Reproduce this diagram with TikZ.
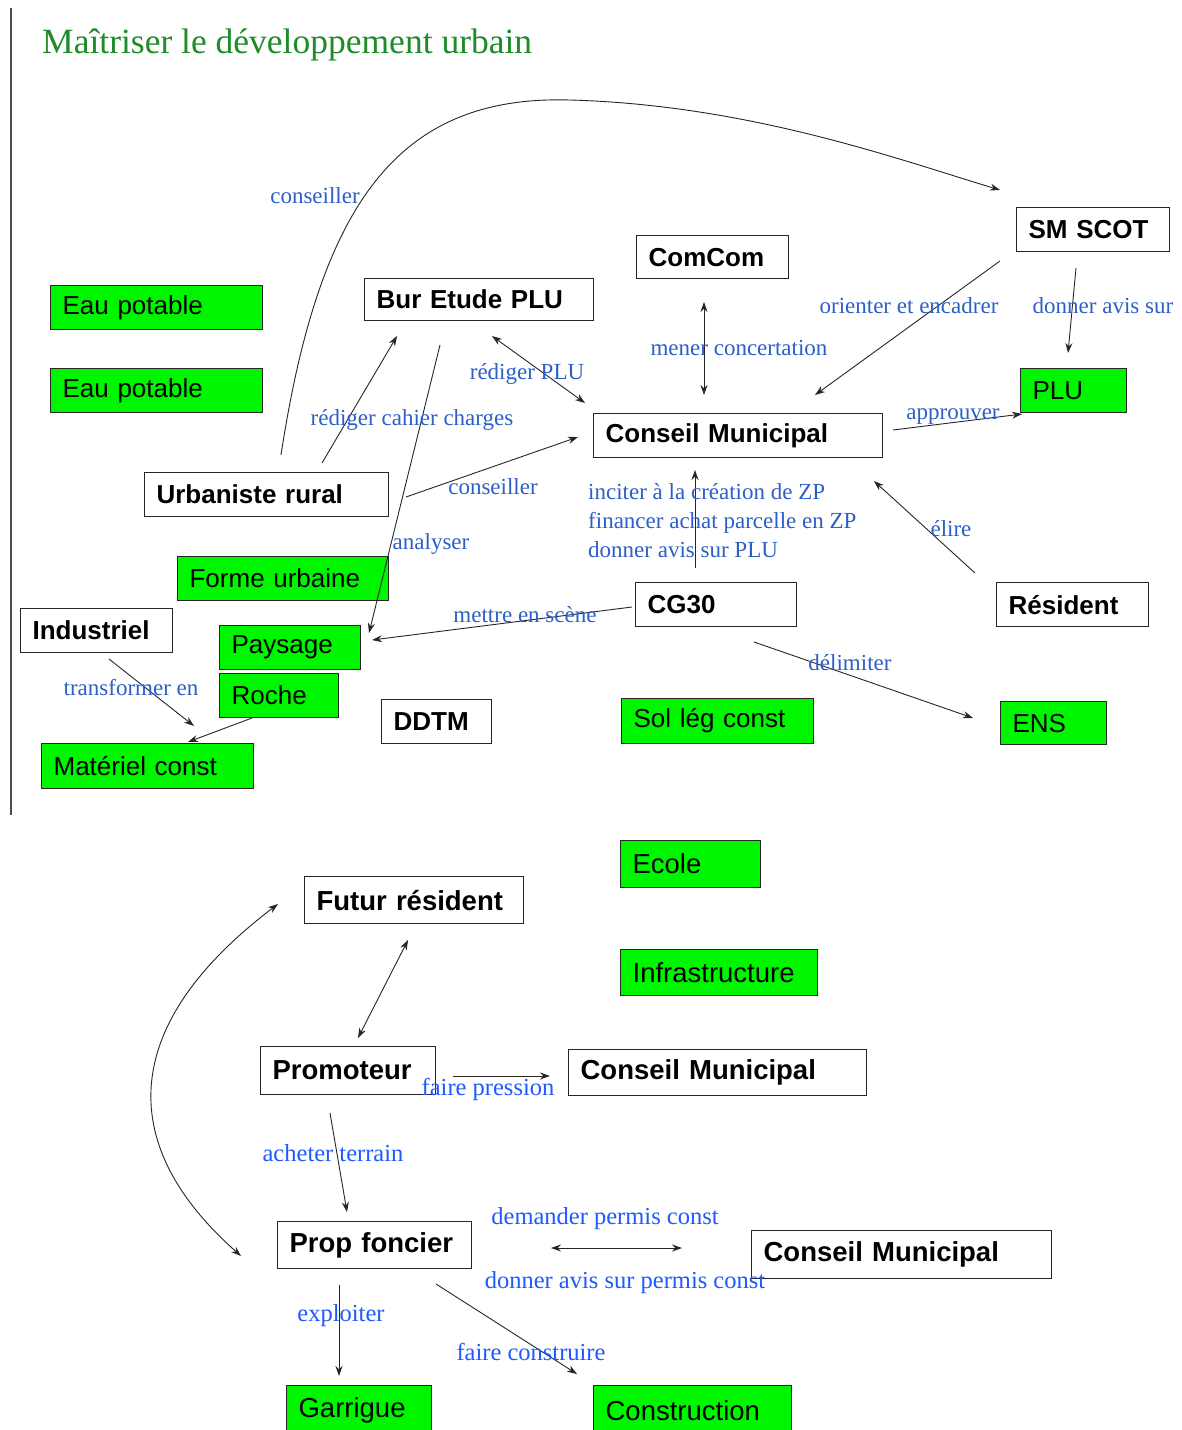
\documentclass[tikz,border=0pt]{standalone}
\usepackage{fontspec}
\setmainfont{Liberation Serif}
\newfontfamily\arialf{Liberation Sans}
\usetikzlibrary{arrows.meta}
\definecolor{boxgreen}{RGB}{0,245,0}
\definecolor{titlegreen}{RGB}{30,140,40}
\definecolor{lblue}{RGB}{45,95,200}
\definecolor{bblue}{RGB}{30,90,255}
\begin{document}
\begin{tikzpicture}[x=1pt,y=-1pt,
  wbox/.style={draw=black!85, line width=1.2pt, fill=white, anchor=north west,
    inner xsep=12pt, inner ysep=0pt, align=left, minimum height=44pt,
    font=\arialf\bfseries\fontsize{26}{30}\selectfont},
  gbox/.style={wbox, fill=boxgreen, font=\arialf\fontsize{26}{30}\selectfont},
  wbbox/.style={wbox, minimum height=47pt, font=\arialf\bfseries\fontsize{27.5}{30}\selectfont},
  gbbox/.style={wbbox, fill=boxgreen, font=\arialf\fontsize{27.5}{30}\selectfont},
  lbl/.style={text=lblue, font=\fontsize{23}{26}\selectfont, inner sep=0pt},
  blbl/.style={text=bblue, font=\fontsize{24.5}{26}\selectfont, inner sep=0pt},
  arr/.style={-{Stealth[length=10pt,width=7pt]}, line width=0.9pt, draw=black!85},
  darr/.style={{Stealth[length=10pt,width=7pt]}-{Stealth[length=10pt,width=7pt]}, line width=0.9pt, draw=black!85}]
\useasboundingbox[fill=white] (0,0) rectangle (1182,1430);

% left rule
\draw[line width=1.8pt, black!70] (11,8) -- (11,815);
% title
\node[anchor=base west, text=titlegreen, font=\fontsize{35.5}{40}\selectfont, inner sep=0pt] (title) at (42,53) {Maîtriser le développement urbain};

% ---------- top boxes ----------
\node[gbox, text width=188pt] (eau1) at (50,285) {Eau potable};
\node[gbox, text width=188pt] (eau2) at (50,368) {Eau potable};
\node[wbox, text width=205pt, minimum height=42pt] (bur) at (364,278) {Bur Etude PLU};
\node[wbox, text width=128pt, minimum height=43pt] (comcom) at (636,235) {ComCom};
\node[wbox, text width=129pt] (scot) at (1016,207) {SM SCOT};
\node[wbox, text width=265pt] (cm1) at (593,413) {Conseil Municipal};
\node[gbox, text width=82pt] (plu) at (1020,368) {PLU};
\node[wbox, text width=220pt] (urb) at (144,472) {Urbaniste rural};
\node[gbox, text width=187pt] (forme) at (177,556) {Forme urbaine};
\node[wbox, text width=128pt] (indus) at (20,608) {Industriel};
\node[gbox, text width=117pt] (pays) at (219,625) {Paysage};
\node[gbox, text width=95pt] (roche) at (219,673) {Roche};
\node[gbox, text width=188pt, minimum height=45pt] (mat) at (41,743) {Matériel const};
\node[wbox, text width=86pt] (ddtm) at (381,699) {DDTM};
\node[wbox, text width=137pt] (cg30) at (635,582) {CG30};
\node[wbox, text width=128pt] (resid) at (996,582) {Résident};
\node[gbox, text width=168pt, minimum height=45pt] (sol) at (621,698) {Sol lég const};
\node[gbox, text width=82pt, minimum height=43pt] (ens) at (1000,701) {ENS};

% ---------- top connector ends ----------
\coordinate (a1s) at (281,455); \coordinate (a1e) at (1000,190);
\coordinate (a2s) at (322,463); \coordinate (a2e) at (397,336);
\coordinate (a3s) at (440,345); \coordinate (a3e) at (369,633);
\coordinate (a4s) at (492,336); \coordinate (a4e) at (585,403);
\coordinate (a5s) at (406,497); \coordinate (a5e) at (578,437);
\coordinate (a6s) at (704,302); \coordinate (a6e) at (704,395);
\coordinate (a7s) at (1000,261); \coordinate (a7e) at (815,395);
\coordinate (a8s) at (1076,268); \coordinate (a8e) at (1068,353);
\coordinate (a9s) at (893,430); \coordinate (a9e) at (1022,414);
\coordinate (a10s) at (695,568); \coordinate (a10e) at (695,470);
\coordinate (a11s) at (975,573); \coordinate (a11e) at (874,481);
\coordinate (a12s) at (632,607); \coordinate (a12e) at (372,640);
\coordinate (a13s) at (754,642); \coordinate (a13e) at (973,718);
\coordinate (a14s) at (109,659); \coordinate (a14e) at (194,726);
\coordinate (a15s) at (252,718); \coordinate (a15e) at (188,742);

\draw[arr] (a1s) .. controls (320,200) and (400,95) .. (570,100) .. controls (750,105) and (900,160) .. (a1e);
\draw[arr] (a2s) -- (a2e);
\draw[arr] (a3s) -- (a3e);
\draw[darr] (a4s) -- (a4e);
\draw[arr] (a5s) -- (a5e);
\draw[darr] (a6s) -- (a6e);
\draw[arr] (a7s) -- (a7e);
\draw[arr] (a8s) -- (a8e);
\draw[arr] (a9s) -- (a9e);
\draw[arr] (a10s) -- (a10e);
\draw[arr] (a11s) -- (a11e);
\draw[arr] (a12s) -- (a12e);
\draw[arr] (a13s) -- (a13e);
\draw[arr] (a14s) -- (a14e);
\draw[arr] (a15s) -- (a15e);

% ---------- top labels ----------
\node[lbl] (l1) at (315,196) {conseiller};
\node[lbl] (l2) at (412,420) {rédiger cahier charges};
\node[lbl] (l3) at (527,374) {rédiger PLU};
\node[lbl] (l4) at (493,487) {conseiller};
\node[lbl] (l5) at (431,544) {analyser};
\node[lbl] (l6) at (739,348) {mener concertation};
\node[lbl] (l7) at (909,306) {orienter et encadrer};
\node[lbl] (l8) at (1103,306) {donner avis sur};
\node[lbl] (l9) at (953,417) {approuver};
\node[lbl, anchor=base west] (zp1) at (588,499) {inciter à la création de ZP};
\node[lbl, anchor=base west] (zp2) at (588,528) {financer achat parcelle en ZP};
\node[lbl, anchor=base west] (zp3) at (588,557) {donner avis sur PLU};
\node[lbl] (l10) at (951,529) {élire};
\node[lbl] (l11) at (525,615) {mettre en scène};
\node[lbl] (l12) at (850,663) {délimiter};
\node[lbl] (l13) at (131,688) {transformer en};

% ---------- bottom boxes ----------
\node[gbbox, text width=116pt] (ecole) at (620,840) {Ecole};
\node[wbbox, text width=195pt] (futur) at (304,876) {Futur résident};
\node[gbbox, text width=173pt, minimum height=46pt] (infra) at (620,949) {Infrastructure};
\node[wbbox, text width=151pt, minimum height=48pt] (promo) at (260,1046) {Promoteur};
\node[wbbox, text width=274pt, minimum height=46pt] (cm2) at (568,1049) {Conseil Municipal};
\node[wbbox, text width=170pt] (prop) at (277,1221) {Prop foncier};
\node[wbbox, text width=276pt, minimum height=48pt] (cm3) at (751,1230) {Conseil Municipal};
\node[gbbox, text width=121pt, minimum height=50pt] (garr) at (286,1385) {Garrigue};
\node[gbbox, text width=174pt, minimum height=50pt] (constr) at (593,1385) {Construction};

% ---------- bottom connector ends ----------
\coordinate (b1s) at (408,940); \coordinate (b1e) at (358,1038);
\coordinate (b2s) at (453,1076); \coordinate (b2e) at (550,1076);
\coordinate (b3s) at (330,1113); \coordinate (b3e) at (347,1212);
\coordinate (b4s) at (241,1256); \coordinate (b4e) at (278,904);
\coordinate (b5s) at (551,1248); \coordinate (b5e) at (682,1248);
\coordinate (b6s) at (339,1285); \coordinate (b6e) at (339,1376);
\coordinate (b7s) at (436,1284); \coordinate (b7e) at (577,1374);

\draw[darr] (b1s) -- (b1e);
\draw[arr] (b2s) -- (b2e);
\draw[arr] (b3s) -- (b3e);
\draw[darr] (b4s) .. controls (110,1140) and (125,1020) .. (b4e);
\draw[darr] (b5s) -- (b5e);
\draw[arr] (b6s) -- (b6e);
\draw[arr] (b7s) -- (b7e);

% ---------- bottom labels ----------
\node[blbl] (m1) at (488,1089) {faire pression};
\node[blbl] (m2) at (333,1153) {acheter terrain};
\node[blbl] (m3) at (605,1219) {demander permis const};
\node[blbl] (m4) at (625,1283) {donner avis sur permis const};
\node[blbl] (m5) at (341,1316) {exploiter};
\node[blbl] (m6) at (531,1352) {faire construire};
\end{tikzpicture}
\end{document}
